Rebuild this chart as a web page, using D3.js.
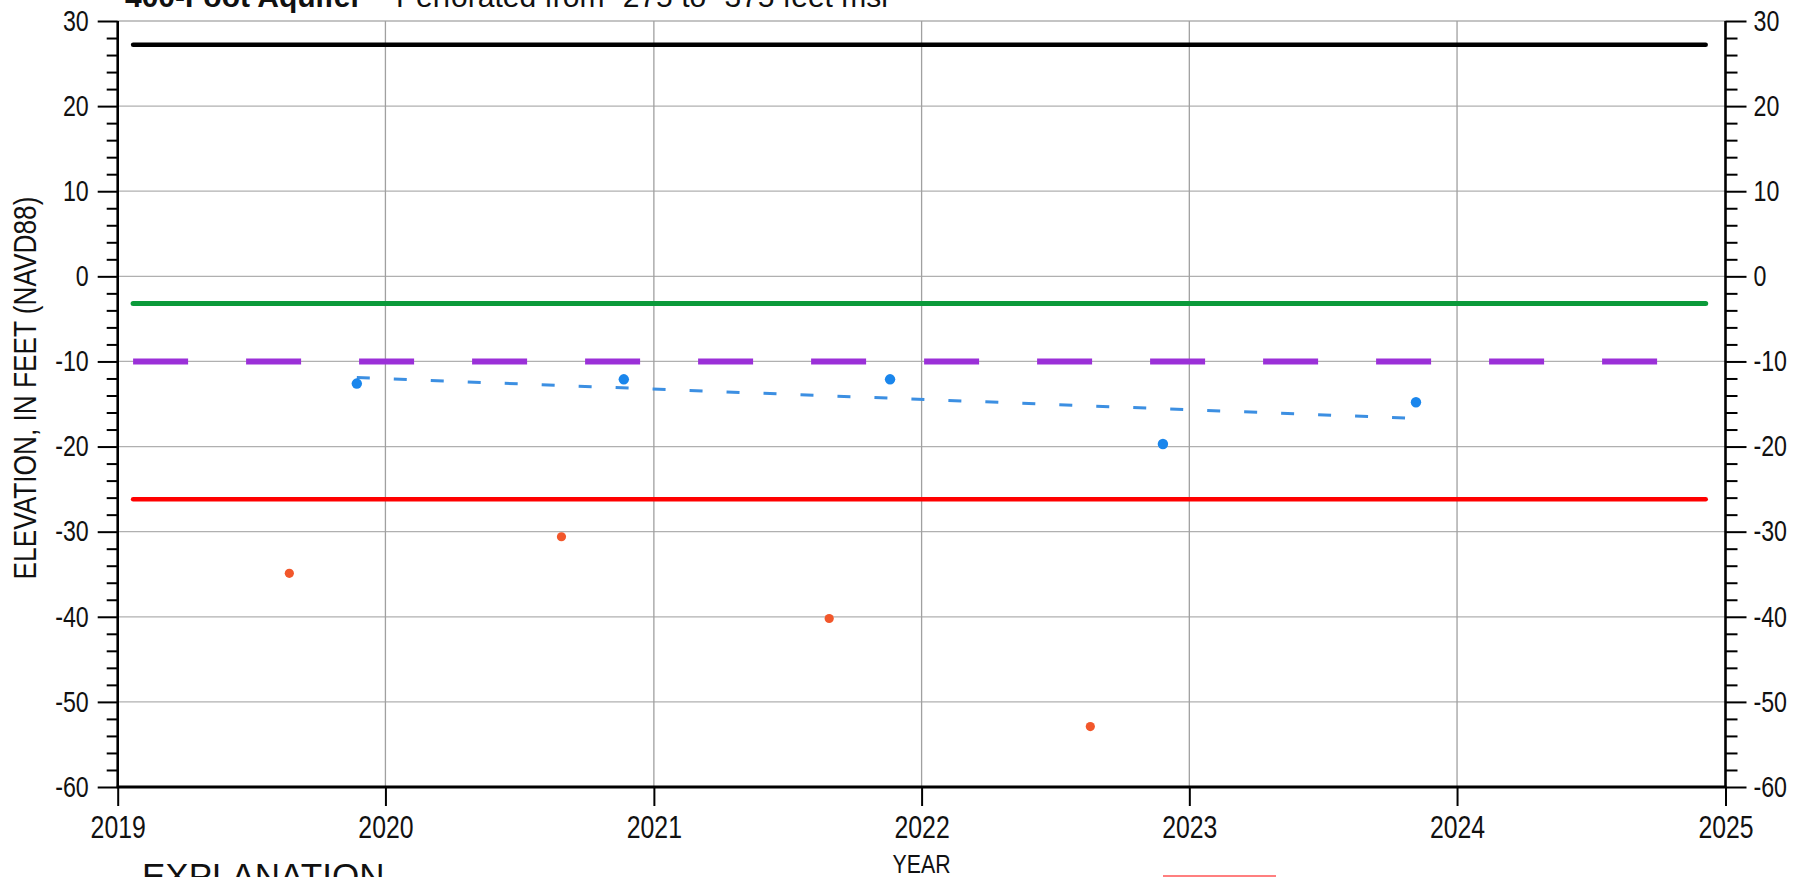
<!DOCTYPE html>
<html>
<head>
<meta charset="utf-8">
<script src="https://cdn.jsdelivr.net/npm/d3@7"></script>
<style>
  html, body { margin:0; padding:0; background:#fff; overflow:hidden; }
  svg { display:block; }
  text { font-family:"Liberation Sans",Arial,sans-serif; }
</style>
</head>
<body>
<div id="chart"></div>
<script>

// tick labels
var yearTicks = [2019, 2020, 2021, 2022, 2023, 2024, 2025];
var elevTicks = [-60, -50, -40, -30, -20, -10, 0, 10, 20, 30];

// water level measurements (blue and orange series)
var blueDates = ['2019-11-23', '2020-11-21', '2021-11-19', '2022-11-26', '2023-11-06'];
var blueValues = [-12.6, -12.1, -12.1, -19.7, -14.8];
var orangeDates = ['2019-08-23', '2020-08-28', '2021-08-28', '2022-08-19'];
var orangeValues = [-34.9, -30.6, -40.2, -52.9];

// trend line end points
var trendDates = ['2019-11-23', '2023-11-06'];
var trendValues = [-11.9, -16.7];

// horizontal reference lines
var refNames = ['ground', 'objective', 'milestone', 'threshold'];
var refValues = [27.2, -3.2, -10, -26.2];
var refSpan = ['2019-01-22', '2024-12-05'];

var W = 1808, H = 877;
var pL = 117.7, pR = 1725.5, pT = 21, pB = 787;
var parse = d3.timeParse('%Y-%m-%d');
var NARROW = 0.8; // the chart uses a condensed face

var x = d3.scaleTime()
  .domain([new Date(yearTicks[0], 0, 1), new Date(yearTicks[yearTicks.length - 1], 0, 1)])
  .range([pL, pR]);
var y = d3.scaleLinear()
  .domain([d3.min(elevTicks), d3.max(elevTicks)])
  .range([pB, pT]);

var svg = d3.select('#chart').append('svg')
  .attr('width', W)
  .attr('height', H);

svg.append('rect').attr('width', W).attr('height', H).attr('fill', '#fff');

// grid
var grid = svg.append('g');
grid.selectAll('line.hg')
  .data(elevTicks.filter(function(d){ return d > d3.min(elevTicks); }))
  .enter().append('line')
  .attr('x1', pL).attr('x2', pR)
  .attr('y1', function(d){ return y(d); })
  .attr('y2', function(d){ return y(d); })
  .attr('stroke', '#b0b0b0').attr('stroke-width', 1.3);
grid.selectAll('line.vg')
  .data(yearTicks.slice(1, -1))
  .enter().append('line')
  .attr('x1', function(d){ return x(new Date(d, 0, 1)); })
  .attr('x2', function(d){ return x(new Date(d, 0, 1)); })
  .attr('y1', pT).attr('y2', pB)
  .attr('stroke', '#a0a0a0').attr('stroke-width', 1.3);

// reference lines
var refStyle = {
  ground:    {color:'#000000', width:4.5, dash:null},
  objective: {color:'#0b9a3a', width:5, dash:null},
  milestone: {color:'#9b30d8', width:6, dash:'55,58'},
  threshold: {color:'#ff0000', width:4.5, dash:null}
};
refNames.forEach(function(name, i){
  var s = refStyle[name];
  svg.append('line')
    .attr('x1', x(parse(refSpan[0])))
    .attr('x2', x(parse(refSpan[1])))
    .attr('y1', y(refValues[i]))
    .attr('y2', y(refValues[i]))
    .attr('stroke', s.color)
    .attr('stroke-width', s.width)
    .attr('stroke-linecap', s.dash ? 'butt' : 'round')
    .attr('stroke-dasharray', s.dash);
});

// trend
svg.append('path')
  .datum(trendDates.map(function(d, i){ return [parse(d), trendValues[i]]; }))
  .attr('d', d3.line().x(function(d){ return x(d[0]); }).y(function(d){ return y(d[1]); }))
  .attr('fill', 'none')
  .attr('stroke', '#3c8fe2')
  .attr('stroke-width', 3)
  .attr('stroke-dasharray', '13,24');

// points
svg.selectAll('circle.blue')
  .data(blueDates)
  .enter().append('circle')
  .attr('cx', function(d){ return x(parse(d)); })
  .attr('cy', function(d, i){ return y(blueValues[i]); })
  .attr('r', 5.2)
  .attr('fill', '#1a86ec');
svg.selectAll('circle.orange')
  .data(orangeDates)
  .enter().append('circle')
  .attr('cx', function(d){ return x(parse(d)); })
  .attr('cy', function(d, i){ return y(orangeValues[i]); })
  .attr('r', 4.6)
  .attr('fill', '#f2572b');

// axes
var minor = d3.range(-60, 31, 2).filter(function(d){ return d % 10 !== 0; });
var plain = function(d){ return String(d); }; // keep the plain hyphen minus

function styleAxis(g){
  g.select('.domain').remove();
  g.selectAll('line').attr('stroke', '#000').attr('stroke-width', 2);
  g.selectAll('text').attr('fill', '#111');
}

// squeeze text horizontally around its anchor
function condense(sel){
  sel.each(function(){
    var t = d3.select(this);
    var tx = +t.attr('x') || 0;
    t.attr('x', tx / NARROW).attr('transform', 'scale(' + NARROW + ',1)');
  });
}

var yl = svg.append('g').attr('transform', 'translate(' + pL + ',0)');
yl.call(d3.axisLeft(y).tickValues(elevTicks).tickFormat(plain).tickSize(20).tickPadding(9));
yl.call(styleAxis);
yl.selectAll('text').attr('font-size', 29).call(condense);
svg.append('g').attr('transform', 'translate(' + pL + ',0)')
  .call(d3.axisLeft(y).tickValues(minor).tickSize(11).tickFormat(''))
  .call(styleAxis);

var yr = svg.append('g').attr('transform', 'translate(' + pR + ',0)');
yr.call(d3.axisRight(y).tickValues(elevTicks).tickFormat(plain).tickSize(21).tickPadding(7));
yr.call(styleAxis);
yr.selectAll('text').attr('font-size', 29).call(condense);
svg.append('g').attr('transform', 'translate(' + pR + ',0)')
  .call(d3.axisRight(y).tickValues(minor).tickSize(12).tickFormat(''))
  .call(styleAxis);

var xa = svg.append('g').attr('transform', 'translate(0,' + pB + ')');
xa.call(d3.axisBottom(x)
  .tickValues(yearTicks.map(function(d){ return new Date(d, 0, 1); }))
  .tickFormat(d3.timeFormat('%Y'))
  .tickSize(19).tickPadding(10));
xa.call(styleAxis);
xa.selectAll('text').attr('font-size', 31).call(condense);

// axis lines
svg.append('line').attr('x1', pL).attr('x2', pL).attr('y1', pT).attr('y2', pB + 1)
  .attr('stroke', '#000').attr('stroke-width', 2.6);
svg.append('line').attr('x1', pR).attr('x2', pR).attr('y1', pT).attr('y2', pB + 1)
  .attr('stroke', '#000').attr('stroke-width', 2.6);
svg.append('line').attr('x1', pL - 1).attr('x2', pR + 1).attr('y1', pB).attr('y2', pB)
  .attr('stroke', '#000').attr('stroke-width', 3);

// titles
svg.append('text')
  .attr('transform', 'translate(36,' + ((pT + pB) / 2 - 16) + ') rotate(-90) scale(0.82,1)')
  .attr('text-anchor', 'middle')
  .attr('font-size', 32)
  .attr('fill', '#111')
  .text('ELEVATION, IN FEET (NAVD88)');

svg.append('text')
  .attr('transform', 'translate(' + ((pL + pR) / 2) + ',873) scale(0.82,1)')
  .attr('text-anchor', 'middle')
  .attr('font-size', 26)
  .attr('fill', '#111')
  .text('YEAR');

svg.append('text')
  .attr('x', 125).attr('y', 7)
  .attr('font-size', 30).attr('font-weight', 'bold')
  .attr('fill', '#111')
  .text('400-Foot Aquifer');
svg.append('text')
  .attr('x', 396).attr('y', 7)
  .attr('font-size', 30)
  .attr('fill', '#111')
  .text('Perforated from -275 to -375 feet msl');

svg.append('text')
  .attr('x', 142).attr('y', 888)
  .attr('font-size', 35)
  .attr('fill', '#111')
  .text('EXPLANATION');

// top of legend box, mostly cut off
svg.append('line')
  .attr('x1', 1163).attr('x2', 1276).attr('y1', 876).attr('y2', 876)
  .attr('stroke', refStyle.threshold.color).attr('stroke-width', 2)
  .attr('stroke-opacity', 0.5);

</script>
</body>
</html>
